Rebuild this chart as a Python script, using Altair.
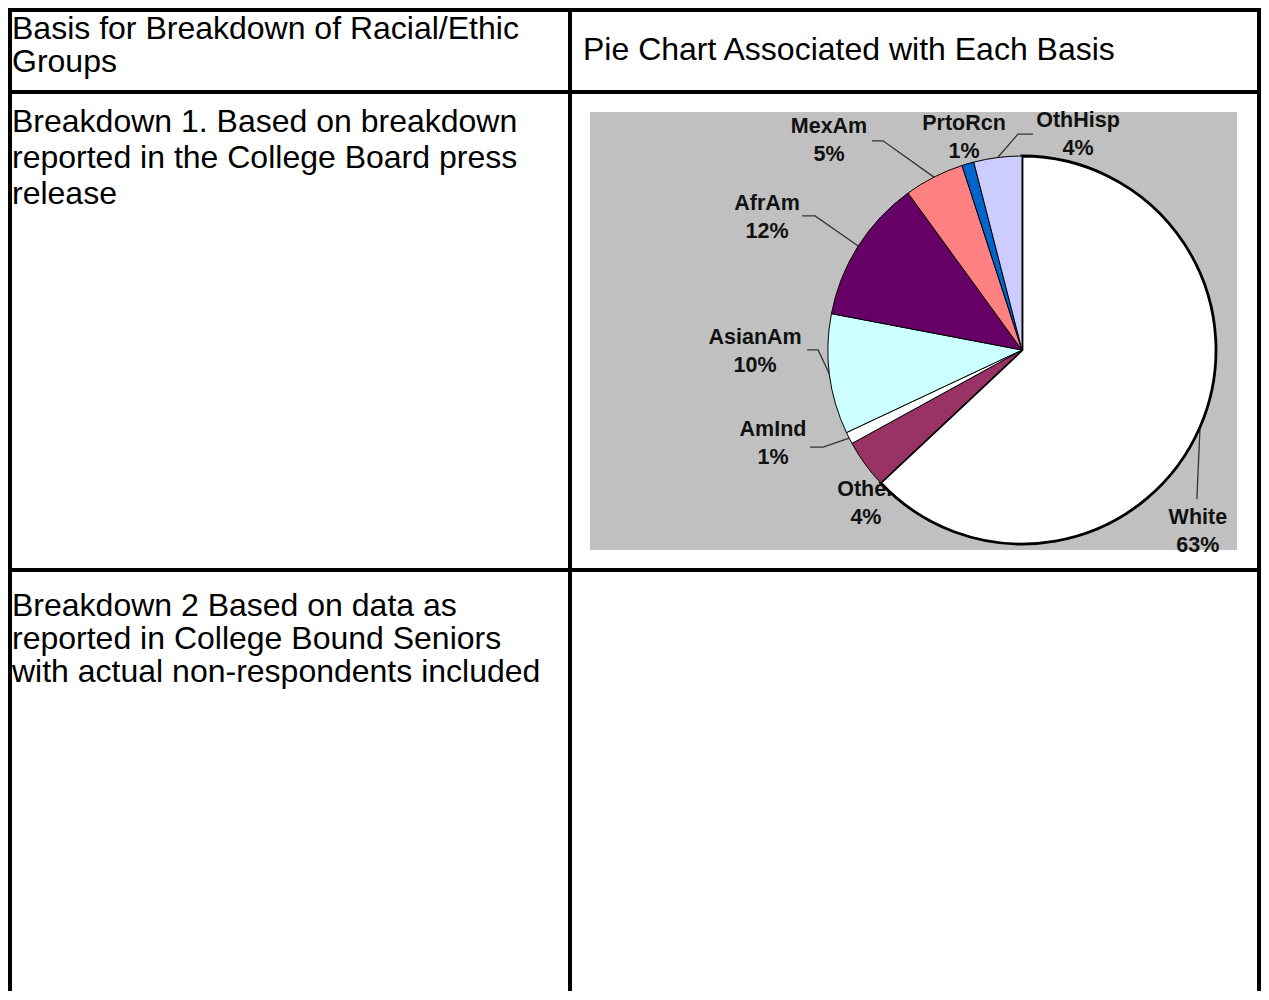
import math
import altair as alt
import pandas as pd

# ---------------- data ----------------
categories = ["White", "Other", "AmInd", "AsianAm", "AfrAm", "MexAm", "PrtoRcn", "OthHisp"]
shares = [63, 4, 1, 10, 12, 5, 1, 4]
share_labels = ["63%", "4%", "1%", "10%", "12%", "5%", "1%", "4%"]

header_left_lines = ["Basis for Breakdown of Racial/Ethic", "Groups"]
header_right_lines = ["Pie Chart Associated with Each Basis"]
row1_lines = ["Breakdown 1. Based on breakdown", "reported in the College Board press", "release"]
row2_lines = ["Breakdown 2 Based on data as", "reported in College Bound Seniors",
              "with actual non-respondents included"]

# ---------------- styles / layout ----------------
slice_colors = ["#FFFFFF", "#993366", "#FFFFFF", "#CCFFFF", "#660066", "#FF8080", "#0066CC", "#CCCCFF"]
M = 8                      # page margin
W, H = 1253, 983           # chart size
LH = 28                    # label line height


def px(v):
    return v - M


CX, CY, R = px(1022), px(350), 194

# label placement: angle (deg, clockwise from 12 o'clock), radius factor
label_layout = {
    "White": (136.0, 1.305), "Other": (225.4, 1.13), "AmInd": (249.3, 1.372),
    "AsianAm": (269.6, 1.376), "AfrAm": (297.4, 1.48), "MexAm": (317.3, 1.467),
    "PrtoRcn": (344.7, 1.133), "OthHisp": (14.6, 1.145),
}
# leader line: start offset from label centre (dx, dy), horizontal elbow length
leader_layout = {
    "MexAm": (43, 0, 11), "AfrAm": (35, -2, 13), "AsianAm": (52, -2, 11),
    "AmInd": (37, 3, 13), "OthHisp": (-45, -1, -15), "White": (-1, -33, 0),
}

# ---------------- derived tables ----------------
pie_df = pd.DataFrame({"category": categories, "share": shares, "idx": range(len(categories))})

total = sum(shares)
cum = 0
mid_angle = {}
for c, s in zip(categories, shares):
    mid_angle[c] = (cum + s / 2) / total * 2 * math.pi
    cum += s


def label_centre(c):
    a, f = label_layout[c]
    a = math.radians(a)
    return CX + f * R * math.sin(a), CY - f * R * math.cos(a)


lab_rows = []
for c, t in zip(categories, share_labels):
    lx, ly = label_centre(c)
    lab_rows.append({"text": f"{c}\n{t}", "x": lx, "y": ly - LH / 2})
lab_df = pd.DataFrame(lab_rows)

lead_rows = []
for c, (dx, dy, el) in leader_layout.items():
    lx, ly = label_centre(c)
    sx, sy = lx + dx, ly + dy
    ex, ey = CX + R * math.sin(mid_angle[c]), CY - R * math.cos(mid_angle[c])
    pts = [(sx, sy), (sx + el, sy), (ex, ey)]
    for i, (x, y) in enumerate(pts):
        lead_rows.append({"label": c, "seq": i, "x": x, "y": y})
lead_df = pd.DataFrame(lead_rows)

# table grid
grid_df = pd.DataFrame([
    {"x": 0, "x2": W, "y": 2, "y2": 2},                    # top border
    {"x": 0, "x2": W, "y": px(92), "y2": px(92)},          # header separator
    {"x": 0, "x2": W, "y": px(570), "y2": px(570)},        # row separator
    {"x": 2, "x2": 2, "y": 0, "y2": H},                    # left border
    {"x": px(570), "x2": px(570), "y": 0, "y2": H},        # column separator
    {"x": W - 2, "x2": W - 2, "y": 0, "y2": H},            # right border
])

text_rows = []
for i, t in enumerate(header_left_lines):
    text_rows.append({"text": t, "x": px(12), "y": px(29 + 33 * i)})
for t in header_right_lines:
    text_rows.append({"text": t, "x": px(583), "y": px(50)})
for i, t in enumerate(row1_lines):
    text_rows.append({"text": t, "x": px(12), "y": px(122 + 36 * i)})
for i, t in enumerate(row2_lines):
    text_rows.append({"text": t, "x": px(12), "y": px(606 + 33 * i)})
text_df = pd.DataFrame(text_rows)

one = pd.DataFrame({"a": [0]})

# ---------------- marks ----------------
bg = alt.Chart(one).mark_rect(color="#C0C0C0").encode(
    x=alt.value(px(590)), x2=alt.value(px(1237)), y=alt.value(px(112)), y2=alt.value(px(550))
)

pie = alt.Chart(pie_df).mark_arc(radius=R, stroke="black").encode(
    theta=alt.Theta("share:Q", stack=True),
    order=alt.Order("idx:Q"),
    color=alt.Color("category:N", scale=alt.Scale(domain=categories, range=slice_colors), legend=None),
    strokeWidth=alt.condition(alt.datum.category == "White", alt.value(2.8), alt.value(1)),
    x=alt.value(CX), y=alt.value(CY),
)

leaders = alt.Chart(lead_df).mark_line(color="#333333", strokeWidth=1.3).encode(
    x=alt.X("x:Q", scale=None, axis=None),
    y=alt.Y("y:Q", scale=None, axis=None),
    detail="label:N",
    order="seq:Q",
)

labels = alt.Chart(lab_df).mark_text(
    font="Liberation Sans", fontSize=21.5, fontWeight="bold", color="#111111",
    lineBreak="\n", lineHeight=LH, align="center", baseline="middle",
).encode(
    x=alt.X("x:Q", scale=None, axis=None),
    y=alt.Y("y:Q", scale=None, axis=None),
    text="text:N",
)

grid = alt.Chart(grid_df).mark_rule(color="black", strokeWidth=4).encode(
    x=alt.X("x:Q", scale=None, axis=None), x2="x2:Q",
    y=alt.Y("y:Q", scale=None, axis=None), y2="y2:Q",
)

texts = alt.Chart(text_df).mark_text(
    font="Liberation Sans", fontSize=32, color="black", align="left", baseline="middle",
).encode(
    x=alt.X("x:Q", scale=None, axis=None),
    y=alt.Y("y:Q", scale=None, axis=None),
    text="text:N",
)

chart = alt.layer(bg, labels, leaders, pie, grid, texts).properties(
    width=W, height=H, padding=0, autosize="none", background="white"
).configure_view(strokeWidth=0)

chart.save("out.html", embed_options={"renderer": "svg", "actions": False})
